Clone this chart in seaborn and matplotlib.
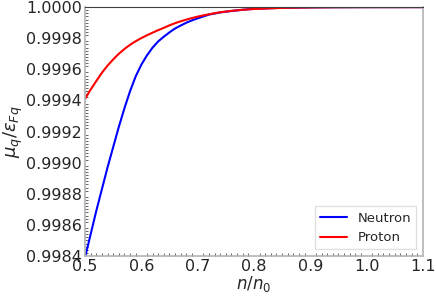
import matplotlib
matplotlib.use("Agg")
import matplotlib.pyplot as plt
from matplotlib.ticker import AutoMinorLocator, FormatStrFormatter, MultipleLocator
import seaborn as sns
import pandas as pd

# values
x_vals = [0.50, 0.51, 0.52, 0.53, 0.54, 0.55, 0.56, 0.57, 0.58, 0.59,
          0.60, 0.61, 0.62, 0.63, 0.64, 0.65, 0.66, 0.67, 0.68, 0.69,
          0.70, 0.71, 0.72, 0.74, 0.76, 0.78, 0.80, 0.85, 0.90, 0.95,
          1.00, 1.10]
neutron = [0.99839, 0.99854, 0.99869, 0.99883, 0.99897, 0.99910, 0.99923, 0.99935,
           0.99946, 0.999555, 0.99963, 0.99969, 0.99974, 0.99978, 0.99981, 0.999838,
           0.999863, 0.999882, 0.99990, 0.999915, 0.999928, 0.99994, 0.999952,
           0.999966, 0.999975, 0.999983, 0.999989, 0.999996, 0.9999985, 0.9999995,
           0.9999998, 1.0]
proton = [0.99941, 0.99947, 0.999525, 0.999578, 0.999624, 0.999664, 0.999700, 0.999731,
          0.999758, 0.999781, 0.999801, 0.999819, 0.999836, 0.999852, 0.999867, 0.999883,
          0.999897, 0.999909, 0.999920, 0.999930, 0.999939, 0.999947, 0.999954,
          0.999967, 0.999976, 0.999983, 0.999988, 0.999995, 0.999998, 0.9999993,
          0.9999998, 1.0]

df = pd.DataFrame({
    "n": x_vals * 2,
    "mu": neutron + proton,
    "species": ["Neutron"] * len(x_vals) + ["Proton"] * len(x_vals),
})

sns.set_style("white")
plt.rcParams["font.family"] = ["DejaVu Sans"]
plt.rcParams["mathtext.fontset"] = "dejavusans"

fig, ax = plt.subplots(figsize=(4.36, 2.97), dpi=100)
sns.lineplot(data=df, x="n", y="mu", hue="species",
             palette={"Neutron": "blue", "Proton": "red"}, lw=1.5, ax=ax)

ax.set_xlim(0.5, 1.1)
ax.set_ylim(0.9984, 1.0)
ax.xaxis.set_major_locator(MultipleLocator(0.1))
ax.yaxis.set_major_locator(MultipleLocator(0.0002))
ax.yaxis.set_major_formatter(FormatStrFormatter("%.4f"))
ax.xaxis.set_minor_locator(AutoMinorLocator(10))
ax.yaxis.set_minor_locator(AutoMinorLocator(10))
ax.tick_params(which="both", direction="in", labelsize=11.5, color="0.4",
               bottom=True, left=True)
ax.tick_params(which="major", length=0, pad=2)
ax.tick_params(which="minor", length=2.5, width=0.7)

ax.set_xlabel("$n/n_0$", fontsize=12, labelpad=0)
ax.set_ylabel(r"$\mu_q/\epsilon_{Fq}$", fontsize=13, labelpad=1)

for side in ["left", "bottom", "right"]:
    ax.spines[side].set_color("0.7")
    ax.spines[side].set_linewidth(1.2)
ax.spines["top"].set_color("0.25")

leg = ax.legend(loc="lower right", fontsize=9.5, frameon=True, fancybox=False)
leg.get_frame().set_edgecolor("0.85")

fig.subplots_adjust(left=0.195, right=0.97, top=0.976, bottom=0.138)
fig.savefig("out.png", dpi=100)
